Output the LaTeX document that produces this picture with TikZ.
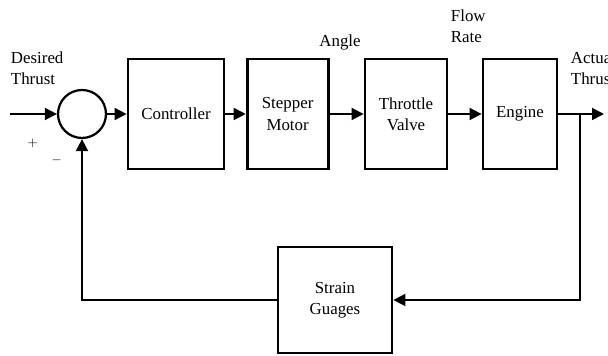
\documentclass[tikz,border=0pt]{standalone}
\usepackage{fontspec}
\setmainfont{Liberation Serif}
\usetikzlibrary{arrows.meta}

\begin{document}
\begin{tikzpicture}[>={Triangle[length=3mm,width=3mm]},
  blk/.style={draw,line width=2pt,minimum height=2.75cm,font=\fontsize{12}{15}\selectfont,align=center},
  lbl/.style={font=\fontsize{12}{15}\selectfont,align=left},
  wire/.style={line width=1.3pt}]
  \useasboundingbox (0,0) rectangle (15.2,8.9);
  % forward path
  \node[circle,draw,line width=1.6pt,minimum size=1.2cm] (sum) at (2.05,6.05) {};
  \node[blk,minimum width=2.4cm] (ctrl) at (4.4,6.05) {Controller};
  \node[blk,minimum width=2.025cm] (step) at (7.19,6.05) {Stepper\\Motor};
  \node[blk,minimum width=2.05cm] (valve) at (10.15,6.05) {Throttle\\Valve};
  \node[blk,minimum width=1.85cm] (eng) at (13.0,6.05) {Engine};
  \node[blk,minimum width=2.85cm,minimum height=2.65cm] (gauge) at (8.375,1.4) {Strain\\Guages};
  \coordinate (in) at (0.25,6.05);
  \coordinate (out) at (15.1,6.05);
  \coordinate (tap) at (14.5,6.05);
  % labels
  \node[lbl,anchor=west] (desired) at (0.15,7.2) {Desired\\Thrust};
  \node[lbl] (angle) at (8.5,7.85) {Angle};
  \node[lbl,anchor=west] (flow) at (11.15,8.25) {Flow\\Rate};
  \node[lbl,anchor=west] (actual) at (14.15,7.2) {Actual\\Thrust};
  \node[font=\small] (plus) at (0.82,5.32) {$+$};
  \node[font=\small] (minus) at (1.42,4.9) {$-$};
  % connectors
  \draw[wire,->] (in) -- (sum.west);
  \draw[wire,->] (sum.east) -- (ctrl.west);
  \draw[wire,->] (ctrl.east) -- (step.west);
  \draw[wire,->] (step.east) -- (valve.west);
  \draw[wire,->] (valve.east) -- (eng.west);
  \draw[wire,->] (eng.east) -- (out);
  \draw[wire,->] (tap) |- (gauge.east);
  \draw[wire,->] (gauge.west) -| (sum.south);
\end{tikzpicture}
\end{document}
